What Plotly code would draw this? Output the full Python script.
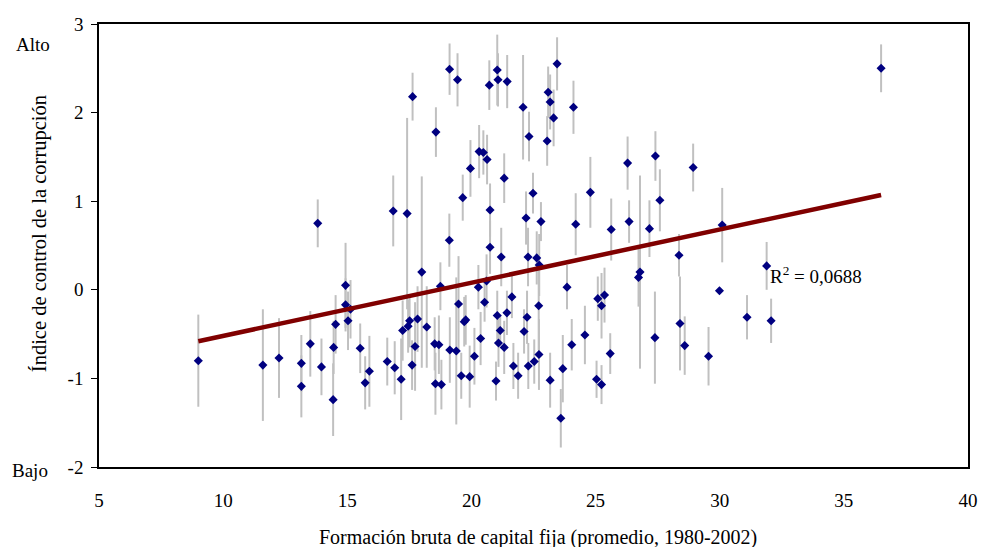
import plotly.graph_objects as go

gfcf = [9.0, 11.6, 12.25, 13.15, 13.15, 13.51, 13.81, 13.96, 14.43, 14.45, 14.53, 14.93, 14.93, 15.03, 15.13,
        15.52, 15.72, 15.89, 16.61, 16.85, 16.91, 17.17, 17.23, 17.41, 17.45, 17.51, 17.61, 17.63, 17.73, 17.83,
        18.0, 18.2, 18.52, 18.55, 18.57, 18.69, 18.75, 18.79, 19.11, 19.12, 19.13, 19.39, 19.44, 19.48, 19.59,
        19.65, 19.71, 19.77, 19.93, 19.96, 20.12, 20.28, 20.31, 20.37, 20.48, 20.53, 20.61, 20.63, 20.72, 20.75,
        20.75, 20.99, 21.04, 21.04, 21.07, 21.09, 21.16, 21.2, 21.32, 21.32, 21.43, 21.44, 21.63, 21.69, 21.88,
        22.08, 22.12, 22.2, 22.24, 22.28, 22.29, 22.32, 22.48, 22.53, 22.63, 22.71, 22.72, 22.73, 22.8, 23.05,
        23.09, 23.17, 23.17, 23.31, 23.45, 23.6, 23.68, 23.85, 24.04, 24.11, 24.2, 24.57, 24.79, 25.04, 25.09,
        25.24, 25.24, 25.36, 25.59, 25.63, 26.29, 26.35, 26.73, 26.79, 27.17, 27.39, 27.41, 27.59, 28.36, 28.4,
        28.59, 28.93, 29.55, 29.99, 30.1, 31.1, 31.89, 32.07, 36.5]

corruption = [-0.80, -0.85, -0.77, -0.83, -1.09, -0.61, 0.75, -0.87, -1.24, -0.65, -0.39, 0.05, -0.17, -0.35, -0.22,
              -0.66, -1.05, -0.92, -0.81, 0.89, -0.88, -1.01, -0.46, 0.86, -0.41, -0.35, -0.85, 2.18, -0.64, -0.33,
              0.20, -0.42, -0.61, -1.06, 1.78, -0.62, 0.04, -1.07, 0.56, 2.49, -0.68, -0.69, 2.37, -0.16, -0.97,
              1.04, -0.36, -0.34, -0.98, 1.37, -0.75, 0.03, 1.56, -0.55, 1.55, -0.14, 0.10, 1.47, 2.31, 0.90,
              0.48, -1.03, 2.48, -0.29, 2.37, -0.60, -0.46, 0.37, 1.26, -0.65, -0.26, 2.35, -0.08, -0.86, -0.97,
              2.06, -0.47, 0.81, -0.31, 0.37, -0.86, 1.73, 1.09, -0.81, 0.36, -0.18, -0.73, 0.28, 0.77, 1.68,
              2.23, 2.12, -1.02, 1.94, 2.55, -1.45, -0.89, 0.03, -0.62, 2.06, 0.74, -0.51, 1.10, -1.01, -0.10,
              -0.18, -1.07, -0.06, -0.72, 0.68, 1.43, 0.77, 0.14, 0.20, 0.69, -0.54, 1.51, 1.01, 0.39, -0.38,
              -0.63, 1.38, -0.75, -0.01, 0.73, -0.31, 0.27, -0.35, 2.50]

err = [0.52, 0.63, 0.45, 0.32, 0.35, 0.37, 0.27, 0.32, 0.41, 0.30, 0.33, 0.48, 0.30, 0.33, 0.33,
       0.28, 0.30, 0.40, 0.27, 0.40, 0.30, 0.46, 0.34, 1.08, 0.30, 0.30, 0.28, 0.27, 0.50, 0.37,
       1.08, 0.46, 0.30, 0.35, 0.28, 0.33, 0.27, 0.28, 0.30, 0.29, 0.37, 0.83, 0.30, 0.54, 0.26,
       0.26, 0.28, 0.28, 0.35, 0.32, 0.32, 0.25, 0.30, 0.30, 0.25, 0.22, 0.30, 0.28, 0.28, 0.30,
       0.30, 0.22, 0.40, 0.28, 0.30, 0.27, 0.17, 0.33, 0.28, 0.30, 0.25, 0.30, 0.24, 0.26, 0.26,
       0.59, 0.25, 0.30, 0.30, 0.33, 0.26, 0.28, 0.23, 0.25, 0.30, 0.50, 0.40, 0.35, 0.22, 0.28,
       0.29, 0.31, 0.31, 0.32, 0.30, 0.33, 0.38, 0.25, 0.29, 0.30, 0.35, 0.33, 0.40, 0.21, 0.25,
       0.37, 0.22, 0.31, 0.23, 0.35, 0.30, 0.24, 0.33, 1.09, 0.32, 0.52, 0.28, 0.35, 0.24, 0.53,
       0.33, 0.27, 0.33, 0.02, 0.42, 0.25, 0.27, 0.25, 0.27]

trend_x = [9.0, 36.5]
trend_y = [-0.58, 1.07]

x_ticks = [5, 10, 15, 20, 25, 30, 35, 40]
y_ticks = [-2, -1, 0, 1, 2, 3]
y_tick_labels = ["-2", "-1", "0", "1", "2", "3"]

FONT = "Liberation Serif, Times New Roman, serif"

fig = go.Figure()
fig.add_trace(go.Scatter(
    x=gfcf, y=corruption, mode="markers",
    marker=dict(symbol="diamond", size=7, color="#000080", line=dict(width=0)),
    error_y=dict(type="data", array=err, symmetric=True, color="#c0c0c0", thickness=2, width=0),
    showlegend=False, hoverinfo="x+y"))
fig.add_trace(go.Scatter(
    x=trend_x, y=trend_y, mode="lines",
    line=dict(color="#800000", width=4.5), showlegend=False))

fig.update_layout(
    width=990, height=547,
    margin=dict(l=99, r=13, t=24, b=80),
    paper_bgcolor="white", plot_bgcolor="white",
    font=dict(family=FONT, size=19, color="black"),
    xaxis=dict(range=[5, 40], tickvals=x_ticks, ticks="", showgrid=False, zeroline=False,
               showline=True, linecolor="black", linewidth=1.5, mirror=True,
               ticklabelstandoff=15, tickfont=dict(size=19)),
    yaxis=dict(range=[-2, 3], tickvals=y_ticks, ticktext=y_tick_labels, ticks="outside", ticklen=6,
               tickcolor="black", showgrid=False, zeroline=False, showline=True, linecolor="black",
               linewidth=1.5, mirror=True, ticklabelstandoff=4, tickfont=dict(size=19)),
    annotations=[
        dict(text="Índice de control de la corrupción", textangle=-90, xref="paper", yref="paper",
             x=-0.0677, y=0.526, showarrow=False, font=dict(size=20.5), xanchor="center", yanchor="middle"),
        dict(text="Formación bruta de capital fija (promedio, 1980-2002)", xref="paper", yref="paper",
             x=0.505, y=-0.160, showarrow=False, font=dict(size=20), xanchor="center", yanchor="middle"),
        dict(text="Alto", xref="paper", yref="paper", x=-0.0755, y=0.953, showarrow=False,
             font=dict(size=19), xanchor="center", yanchor="middle"),
        dict(text="Bajo", xref="paper", yref="paper", x=-0.079, y=-0.007, showarrow=False,
             font=dict(size=19), xanchor="center", yanchor="middle"),
        dict(text="R<sup>2</sup> = 0,0688", xref="x", yref="y", x=31.96, y=0.17, showarrow=False,
             font=dict(size=19), xanchor="left", yanchor="middle"),
    ],
)

fig.write_html("out.html")
